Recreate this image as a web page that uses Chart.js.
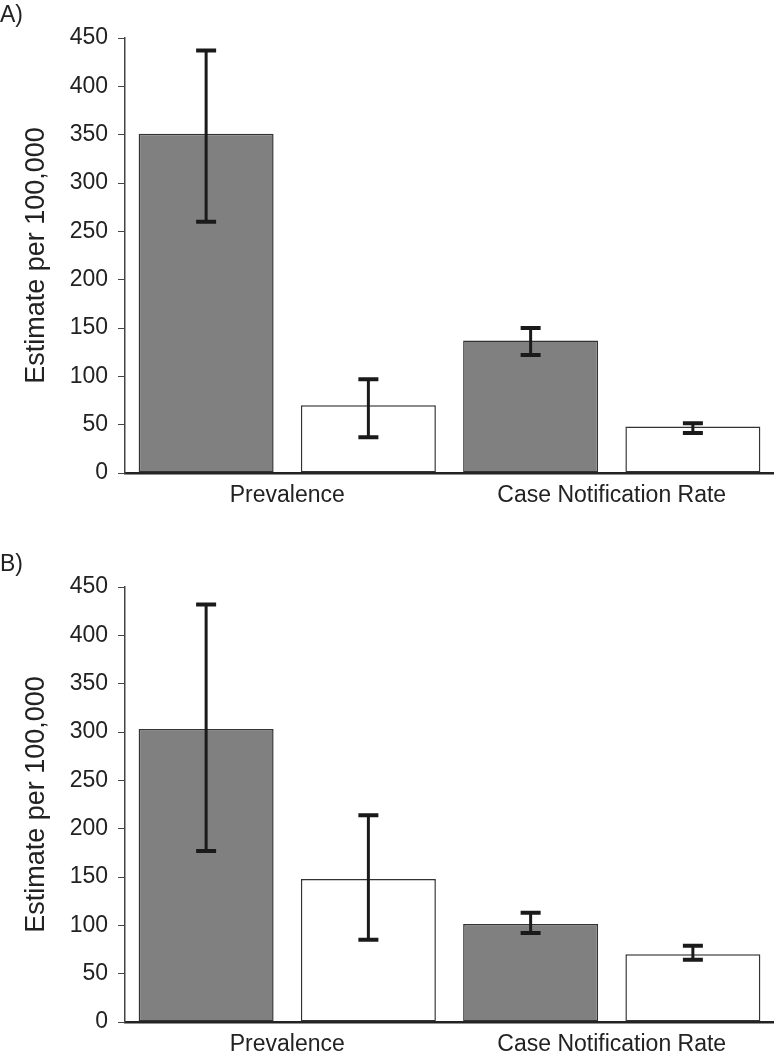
<!DOCTYPE html>
<html lang="en">
<head>
    <meta charset="UTF-8">
    <title>Estimate per 100,000</title>
    <script src="https://cdn.jsdelivr.net/npm/chart.js"></script>
    <style>
        body {
            margin: 0;
            background: #ffffff;
            font-family: 'Liberation Sans', Arial, sans-serif;
        }
        .panel {
            position: absolute;
            left: 0;
            width: 774px;
            height: 507px;
        }
        .panel-label {
            position: absolute;
            left: 0;
            top: 1px;
            font-size: 23px;
            color: #222;
            z-index: 2;
        }
    </style>
</head>
<body>
    <div class="panel" style="top: 0px;">
        <div class="panel-label">A)</div>
        <canvas id="chartA"></canvas>
    </div>
    <div class="panel" style="top: 549px;">
        <div class="panel-label">B)</div>
        <canvas id="chartB"></canvas>
    </div>

<script>
    const categories = ['Prevalence', 'Case Notification Rate'];
    const yTicks = [0, 50, 100, 150, 200, 250, 300, 350, 400, 450];

    // panel A
    const aGray = [351, 137];
    const aGrayLow = [260, 122];
    const aGrayHigh = [437, 150];
    const aWhite = [70, 48];
    const aWhiteLow = [37, 41.5];
    const aWhiteHigh = [97, 51.5];

    // panel B
    const bGray = [303, 101.5];
    const bGrayLow = [177, 92];
    const bGrayHigh = [432, 113];
    const bWhite = [148, 70];
    const bWhiteLow = [85, 64.5];
    const bWhiteHigh = [214, 79];

    // error bars drawn on top of the bars
    const errorBars = {
        id: 'errorBars',
        afterDatasetsDraw(chart) {
            const ctx = chart.ctx;
            const y = chart.scales.y;
            chart.data.datasets.forEach((ds, i) => {
                const meta = chart.getDatasetMeta(i);
                meta.data.forEach((bar, j) => {
                    const top = y.getPixelForValue(ds.errHigh[j]);
                    const bottom = y.getPixelForValue(ds.errLow[j]);
                    ctx.save();
                    ctx.strokeStyle = '#1a1a1a';
                    ctx.lineWidth = 3;
                    ctx.beginPath();
                    ctx.moveTo(bar.x, top);
                    ctx.lineTo(bar.x, bottom);
                    ctx.stroke();
                    ctx.lineWidth = 4;
                    ctx.beginPath();
                    ctx.moveTo(bar.x - 10, top);
                    ctx.lineTo(bar.x + 10, top);
                    ctx.moveTo(bar.x - 10, bottom);
                    ctx.lineTo(bar.x + 10, bottom);
                    ctx.stroke();
                    ctx.restore();
                });
            });
        }
    };

    function makeChart(id, gray, grayLow, grayHigh, white, whiteLow, whiteHigh) {
        return new Chart(document.getElementById(id).getContext('2d'), {
            type: 'bar',
            data: {
                labels: categories,
                datasets: [{
                    data: gray,
                    errLow: grayLow,
                    errHigh: grayHigh,
                    backgroundColor: '#808080',
                    borderColor: '#333333',
                    borderWidth: 1.5,
                    borderSkipped: false,
                    barPercentage: 0.832,
                    categoryPercentage: 1
                }, {
                    data: white,
                    errLow: whiteLow,
                    errHigh: whiteHigh,
                    backgroundColor: '#ffffff',
                    borderColor: '#333333',
                    borderWidth: 1.5,
                    borderSkipped: false,
                    barPercentage: 0.832,
                    categoryPercentage: 1
                }]
            },
            options: {
                responsive: true,
                maintainAspectRatio: false,
                animation: false,
                layout: { padding: { top: 38, right: 0, bottom: 0, left: 0 } },
                plugins: {
                    legend: { display: false },
                    tooltip: { enabled: false }
                },
                scales: {
                    x: {
                        grid: { display: false, drawTicks: false },
                        border: { display: true, color: '#222', width: 2.5 },
                        ticks: {
                            color: '#222',
                            padding: 9,
                            font: { family: 'Liberation Sans', size: 23 }
                        },
                        afterFit(scale) { scale.height = 34; }
                    },
                    y: {
                        min: 0,
                        max: 450,
                        afterBuildTicks(scale) {
                            scale.ticks = yTicks.map(v => ({ value: v }));
                        },
                        grid: {
                            drawOnChartArea: false,
                            drawTicks: true,
                            tickLength: 7,
                            color: '#444'
                        },
                        border: { display: true, color: '#444', width: 1.5 },
                        ticks: {
                            color: '#222',
                            padding: 10,
                            font: { family: 'Liberation Sans', size: 23 }
                        },
                        title: {
                            display: true,
                            text: 'Estimate per 100,000',
                            color: '#222',
                            padding: { top: 20, bottom: 0 },
                            font: { family: 'Liberation Sans', size: 27 }
                        },
                        afterFit(scale) { scale.width = 125; }
                    }
                }
            },
            plugins: [errorBars]
        });
    }

    makeChart('chartA', aGray, aGrayLow, aGrayHigh, aWhite, aWhiteLow, aWhiteHigh);
    makeChart('chartB', bGray, bGrayLow, bGrayHigh, bWhite, bWhiteLow, bWhiteHigh);
</script>
</body>
</html>
